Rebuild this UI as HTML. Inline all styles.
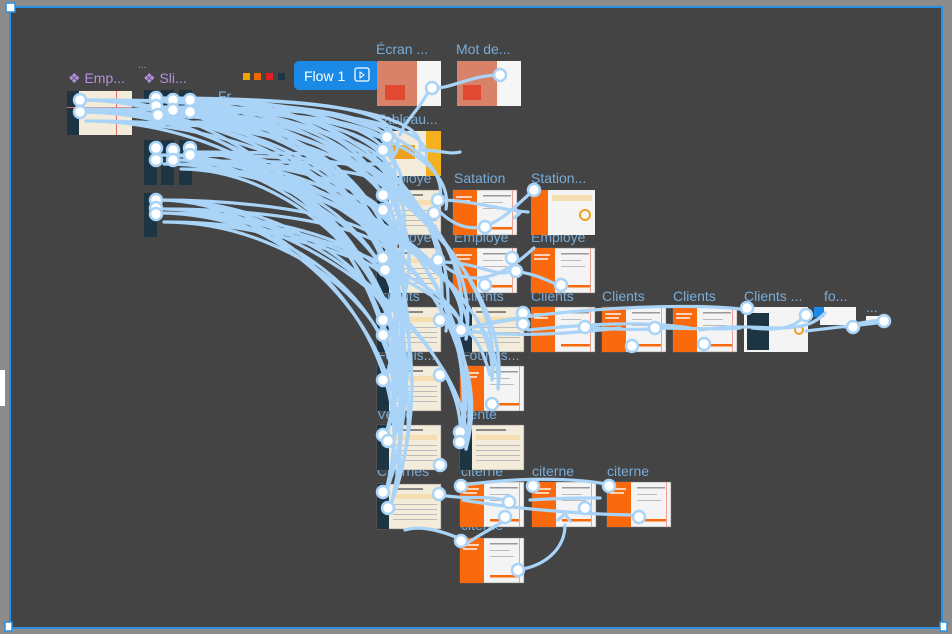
<!DOCTYPE html>
<html><head><meta charset="utf-8"><style>
html,body{margin:0;padding:0;background:#8c8c8c;width:952px;height:634px;overflow:hidden}
svg{display:block;font-family:"Liberation Sans",sans-serif}
</style></head><body>
<svg width="952" height="634" viewBox="0 0 952 634">
<defs>
<g id="of"><rect width="64" height="45" fill="#f4f4f4" stroke="#777" stroke-width=".5"/><rect width="24" height="45" fill="#f86a0d"/><rect x="30" y="5" width="28" height="1.5" fill="#999"/><rect x="30" y="12" width="20" height="1" fill="#bbb"/><rect x="30" y="18" width="24" height="1" fill="#bbb"/><rect x="30" y="37" width="30" height="2.5" fill="#f86a0d"/><rect x="3" y="6" width="16" height="2" fill="#fff" opacity=".7"/><rect x="3" y="10" width="14" height="2" fill="#fff" opacity=".7"/><rect x="59" width="1" height="45" fill="#f0a090"/></g>
<g id="df"><rect width="64" height="45" fill="#f3ecdb" stroke="#777" stroke-width=".5"/><rect width="12" height="45" fill="#1d3442"/><rect x="16" y="4" width="30" height="2" fill="#888"/><rect x="16" y="10" width="44" height="5" fill="#f5deb0"/><rect x="16" y="20" width="44" height="1" fill="#bbb"/><rect x="16" y="25" width="44" height="1" fill="#bbb"/><rect x="16" y="30" width="44" height="1" fill="#bbb"/><rect x="16" y="35" width="44" height="1" fill="#bbb"/></g>
<g id="conn">
<path d="M80 100 C280 100 400 110 385 150 M80 100 C280 100 420 130 385 197 M80 112 C280 112 420 150 385 262 M80 112 C260 112 430 200 385 322 M80 100 C260 100 440 220 385 380 M80 112 C260 112 440 260 385 437 M80 100 C260 100 440 280 385 495"/>
<path d="M158 98 C320 98 420 110 385 150 M158 98 C320 98 430 140 385 197 M175 100 C320 100 440 160 385 262 M190 100 C330 100 450 190 385 322 M158 112 C320 112 440 210 385 380 M190 113 C330 113 450 250 385 437 M175 100 C320 100 460 280 385 495 M190 100 C330 100 460 180 440 322 M158 112 C300 112 490 250 460 440 M175 100 C320 100 510 250 492 380 M190 113 C330 113 480 210 460 330 M158 98 C300 98 430 110 420 150 M190 100 C330 100 450 140 440 200"/>
<path d="M158 155 C300 155 410 160 385 197 M175 160 C310 160 430 200 385 262 M190 152 C320 152 440 230 385 322 M158 155 C300 155 440 260 385 380 M175 160 C300 160 440 300 385 437 M190 152 C320 152 450 330 385 495 M158 155 C300 155 480 260 460 330 M190 152 C320 152 500 300 460 440 M175 160 C320 160 500 280 492 380 M190 152 C320 152 410 160 385 150"/>
<path d="M158 200 C300 200 410 230 385 262 M158 213 C300 213 430 260 385 322 M158 200 C300 200 430 300 385 380 M158 213 C300 213 430 330 385 437 M158 200 C300 200 430 360 385 495 M158 213 C300 213 470 290 460 330 M158 200 C300 200 470 340 460 440"/>
</g>
</defs>
<rect x="0" y="0" width="952" height="634" fill="#8c8c8c"/>
<rect x="10" y="7" width="932" height="621" fill="#444444" stroke="#2a8fe0" stroke-width="2"/>
<rect x="6" y="3" width="9" height="9" fill="#fff" stroke="#2a8fe0" stroke-width="1.5"/>
<rect x="5" y="622" width="7" height="9" fill="#fff" stroke="#2a8fe0" stroke-width="1.5"/>
<rect x="940" y="622" width="7" height="9" fill="#fff" stroke="#2a8fe0" stroke-width="1.5"/>
<rect x="0" y="370" width="5" height="36" fill="#fff"/>

<g font-size="14" fill="#79acd9">
<text x="376" y="54">Écran ...</text><text x="456" y="54">Mot de...</text>
<text x="377" y="124">Tableau...</text>
<text x="377" y="183">Employe</text><text x="454" y="183">Satation</text><text x="531" y="183">Station...</text>
<text x="377" y="242">Employe</text><text x="454" y="242">Employe</text><text x="531" y="242">Employe</text>
<text x="377" y="301">Clients</text><text x="461" y="301">Clients</text><text x="531" y="301">Clients</text><text x="602" y="301">Clients</text><text x="673" y="301">Clients</text><text x="744" y="301">Clients ...</text><text x="824" y="301">fo...</text><text x="866" y="312">...</text>
<text x="377" y="360">Fournis...</text><text x="461" y="360">Fournis...</text>
<text x="377" y="419">Vente</text><text x="461" y="419">Vente</text>
<text x="377" y="476">Citernes</text><text x="461" y="476">citerne</text><text x="532" y="476">citerne</text><text x="607" y="476">citerne</text>
<text x="461" y="530">citerne</text>
<text x="218" y="101">Fr...</text>
</g>
<g font-size="14" fill="#b48fe0"><text x="68" y="83">❖ Emp...</text><text x="143" y="83">❖ Sli...</text><text x="138" y="68" font-size="10">...</text></g>
<rect x="243" y="73" width="7" height="7" fill="#f0a400"/><rect x="254" y="73" width="7" height="7" fill="#f06a00"/><rect x="266" y="73" width="7" height="7" fill="#e02020"/><rect x="278" y="73" width="7" height="7" fill="#1d3442"/>
<rect x="294" y="61" width="85" height="29" rx="5" fill="#1a8ae6"/>
<text x="304" y="81" font-size="14" fill="#fff">Flow 1</text>
<rect x="355" y="68" width="14" height="13" rx="2" fill="none" stroke="#fff" stroke-width="1.3"/><path d="M360 72 l4 3 -4 3z" fill="none" stroke="#fff"/>

<rect x="67" y="91" width="65" height="44" fill="#f3ecdb"/><rect x="67" y="91" width="12" height="44" fill="#1d3442"/><rect x="116" y="91" width="1" height="44" fill="#e07060"/><rect x="67" y="107" width="65" height="1" fill="#e07060"/>
<rect x="144" y="90" width="13" height="36" fill="#1d3442"/><rect x="161" y="90" width="13" height="36" fill="#1d3442"/><rect x="179" y="90" width="13" height="36" fill="#1d3442"/>
<rect x="144" y="140" width="13" height="45" fill="#1d3442"/><rect x="161" y="140" width="13" height="45" fill="#1d3442"/><rect x="179" y="140" width="13" height="45" fill="#1d3442"/>
<rect x="144" y="193" width="13" height="44" fill="#1d3442"/>
<rect x="377" y="61" width="64" height="45" fill="#c8a090"/><rect x="377" y="61" width="40" height="45" fill="#d9826a"/><rect x="417" y="61" width="24" height="45" fill="#f6f6f6"/><rect x="385" y="85" width="20" height="15" fill="#e04a30"/>
<rect x="457" y="61" width="64" height="45" fill="#d9826a"/><rect x="497" y="61" width="24" height="45" fill="#f6f6f6"/><rect x="463" y="85" width="18" height="15" fill="#e04a30"/>
<rect x="377" y="131" width="64" height="45" fill="#f3ecdb"/><rect x="377" y="131" width="6" height="45" fill="#1d3442"/><rect x="390" y="145" width="25" height="14" fill="#f0a020"/><rect x="426" y="131" width="15" height="45" fill="#f5b020"/>
<use href="#df" x="377" y="190"/><use href="#of" x="453" y="190"/>
<rect x="531" y="190" width="64" height="45" fill="#f4f4f4"/><rect x="531" y="190" width="17" height="45" fill="#f86a0d"/><rect x="552" y="195" width="40" height="6" fill="#f5deb0"/><circle cx="585" cy="215" r="5" fill="none" stroke="#f0a020" stroke-width="2"/>
<use href="#df" x="377" y="248"/><use href="#of" x="453" y="248"/><use href="#of" x="531" y="248"/>
<use href="#df" x="377" y="307"/><use href="#df" x="460" y="307"/><use href="#of" x="531" y="307"/><use href="#of" x="602" y="307"/><use href="#of" x="673" y="307"/>
<rect x="744" y="307" width="64" height="45" fill="#f4f4f4"/><rect x="747" y="313" width="22" height="37" fill="#1d3442"/><circle cx="799" cy="330" r="4" fill="none" stroke="#f0a020" stroke-width="2"/>
<rect x="820" y="307" width="36" height="18" fill="#f6f6f6"/><rect x="814" y="307" width="10" height="10" fill="#1a8ae6"/><rect x="866" y="316" width="20" height="8" fill="#f6f6f6"/>
<use href="#df" x="377" y="366"/><use href="#of" x="460" y="366"/>
<use href="#df" x="377" y="425"/><use href="#df" x="460" y="425"/>
<use href="#df" x="377" y="484"/><use href="#of" x="460" y="482"/><use href="#of" x="532" y="482"/><use href="#of" x="607" y="482"/>
<use href="#of" x="460" y="538"/>

<g fill="none" stroke="#a9d3f7" stroke-width="3.2" stroke-linecap="round">
<use href="#conn"/>
<use href="#conn" transform="translate(6,9)"/>
<path d="M430 88 C420 110 405 120 400 135 M500 75 C470 75 450 90 430 88 M420 150 C440 150 450 155 460 152 M440 200 C470 200 500 210 528 212 M440 212 C480 250 510 210 534 190 M520 213 l-6 -5 M520 213 l-6 5 M440 262 C480 262 500 280 512 270 M440 262 C480 300 520 260 534 248 M520 272 C540 275 555 285 560 285 M462 330 C500 320 520 320 530 315 M462 330 C520 340 600 330 620 328 M528 330 C580 325 640 320 690 328 M584 327 C620 330 650 330 660 328 M655 328 C690 328 720 330 740 328 M752 311 C700 300 520 310 462 330 M800 320 C790 330 770 330 752 328 M885 322 C860 325 830 328 806 331 M845 327 C860 322 880 320 888 320 M463 485 C500 480 560 475 612 485 M463 500 C520 510 600 515 638 515 M530 500 C560 498 590 498 600 498 M505 520 C490 530 470 540 465 545 M518 570 C550 565 565 545 565 525 M463 540 C440 530 420 525 405 530 M440 495 C470 500 480 495 505 500 M490 375 C480 340 470 330 460 330 M558 520 l7 -6 5 7 M825 313 C800 340 760 320 700 330"/>
</g>
<g fill="#fff" stroke="#a9d3f7" stroke-width="2.5">
<circle cx="80" cy="100" r="6"/><circle cx="80" cy="112" r="6"/>
<circle cx="156" cy="98" r="6"/><circle cx="156" cy="106" r="6"/><circle cx="158" cy="115" r="6"/><circle cx="173" cy="100" r="6"/><circle cx="173" cy="110" r="6"/><circle cx="190" cy="100" r="6"/><circle cx="190" cy="112" r="6"/>
<circle cx="156" cy="148" r="6"/><circle cx="156" cy="160" r="6"/><circle cx="173" cy="150" r="6"/><circle cx="173" cy="160" r="6"/><circle cx="190" cy="148" r="6"/><circle cx="190" cy="155" r="6"/>
<circle cx="156" cy="200" r="6"/><circle cx="156" cy="208" r="6"/><circle cx="156" cy="214" r="6"/>
<circle cx="432" cy="88" r="6"/><circle cx="500" cy="75" r="6"/>
<circle cx="387" cy="137" r="6"/><circle cx="383" cy="150" r="6"/>
<circle cx="383" cy="195" r="6"/><circle cx="383" cy="210" r="6"/><circle cx="438" cy="200" r="6"/><circle cx="434" cy="213" r="6"/><circle cx="485" cy="227" r="6"/><circle cx="534" cy="190" r="6"/>
<circle cx="383" cy="258" r="6"/><circle cx="385" cy="270" r="6"/><circle cx="438" cy="260" r="6"/><circle cx="512" cy="258" r="6"/><circle cx="516" cy="271" r="6"/><circle cx="485" cy="285" r="6"/><circle cx="561" cy="285" r="6"/>
<circle cx="383" cy="320" r="6"/><circle cx="383" cy="335" r="6"/><circle cx="440" cy="320" r="6"/><circle cx="461" cy="330" r="6"/><circle cx="523" cy="313" r="6"/><circle cx="523" cy="324" r="6"/><circle cx="585" cy="327" r="6"/><circle cx="632" cy="346" r="6"/><circle cx="655" cy="328" r="6"/><circle cx="704" cy="344" r="6"/><circle cx="747" cy="308" r="6"/><circle cx="806" cy="315" r="6"/><circle cx="853" cy="327" r="6"/><circle cx="884" cy="321" r="6"/>
<circle cx="383" cy="380" r="6"/><circle cx="440" cy="375" r="6"/><circle cx="492" cy="404" r="6"/>
<circle cx="383" cy="435" r="6"/><circle cx="388" cy="441" r="6"/><circle cx="440" cy="465" r="6"/><circle cx="460" cy="432" r="6"/><circle cx="460" cy="442" r="6"/>
<circle cx="383" cy="492" r="6"/><circle cx="388" cy="508" r="6"/><circle cx="439" cy="494" r="6"/><circle cx="461" cy="486" r="6"/><circle cx="509" cy="502" r="6"/><circle cx="505" cy="517" r="6"/><circle cx="533" cy="486" r="6"/><circle cx="585" cy="508" r="6"/><circle cx="609" cy="486" r="6"/><circle cx="639" cy="517" r="6"/><circle cx="461" cy="541" r="6"/><circle cx="518" cy="570" r="6"/>
</g>
</svg>
</body></html>
